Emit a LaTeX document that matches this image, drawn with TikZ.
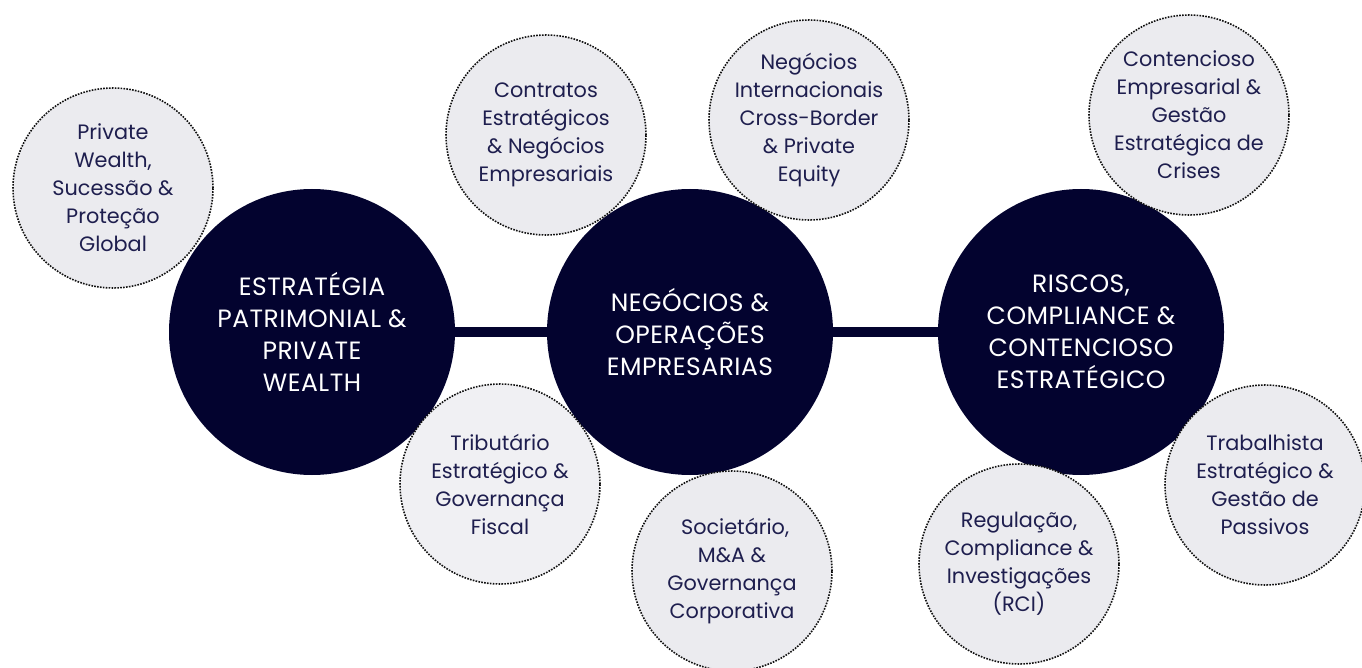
\documentclass[tikz,border=0pt]{standalone}
\usepackage{fontspec}
\setmainfont{Poppins}
\definecolor{navy}{HTML}{03032F}
\definecolor{greyfill}{HTML}{EBEBEF}
\definecolor{greyfillB}{HTML}{F0F0F3}
\definecolor{smalltext}{HTML}{1E1E4E}
\definecolor{dotcol}{HTML}{111111}
\tikzset{
  bigcircle/.style={circle, fill=navy, minimum size=286pt, inner sep=0pt, text=white, align=center, font=\fontsize{25}{32}\selectfont\addfontfeatures{LetterSpace=2}},
  smallcircle/.style={circle, fill=greyfill, draw=dotcol, line width=1.6pt, dash pattern=on 1.6pt off 1.3pt, minimum size=200pt, inner sep=0pt, text=smalltext, align=center, font=\fontsize{20.8}{28}\selectfont},
  bar/.style={navy, line width=10pt}
}
\begin{document}
\begin{tikzpicture}[x=1pt,y=-1pt]
\useasboundingbox (0,0) rectangle (1362,668);
\fill[white] (0,0) rectangle (1362,668);
% main circles
\node[bigcircle] (c1) at (312,332) {ESTRATÉGIA\\PATRIMONIAL \&\\PRIVATE\\WEALTH};
\node[bigcircle] (c2) at (690,332) {NEGÓCIOS \&\\OPERAÇÕES\\EMPRESARIAS};
\node[bigcircle] (c3) at (1081,332) {RISCOS,\\COMPLIANCE \&\\CONTENCIOSO\\ESTRATÉGICO};
% connectors
\draw[bar] (c1.east) -- (c2.west);
\draw[bar] (c2.east) -- (c3.west);
% satellites
\node[smallcircle] (s1) at (113,188) {Private\\Wealth,\\Sucessão \&\\Proteção\\Global};
\node[smallcircle] (s2) at (546,135) {Contratos\\Estratégicos\\\& Negócios\\Empresariais};
\node[smallcircle] (s3) at (809,120) {Negócios\\Internacionais\\Cross-Border\\\& Private\\Equity};
\node[smallcircle] (s4) at (1189,115) {Contencioso\\Empresarial \&\\Gestão\\Estratégica de\\Crises};
\node[smallcircle, fill=greyfillB] (s5) at (500,484) {Tributário\\Estratégico \&\\Governança\\Fiscal};
\node[smallcircle] (s6) at (732,571) {\hspace*{0.3em}Societário,\\M\&A \&\\Governança\\Corporativa};
\node[smallcircle] (s7) at (1019,564) {Regulação,\\Compliance \&\\Investigações\\(RCI)};
\node[smallcircle] (s8) at (1265,485) {Trabalhista\\Estratégico \&\\Gestão de\\Passivos};
\end{tikzpicture}
\end{document}
